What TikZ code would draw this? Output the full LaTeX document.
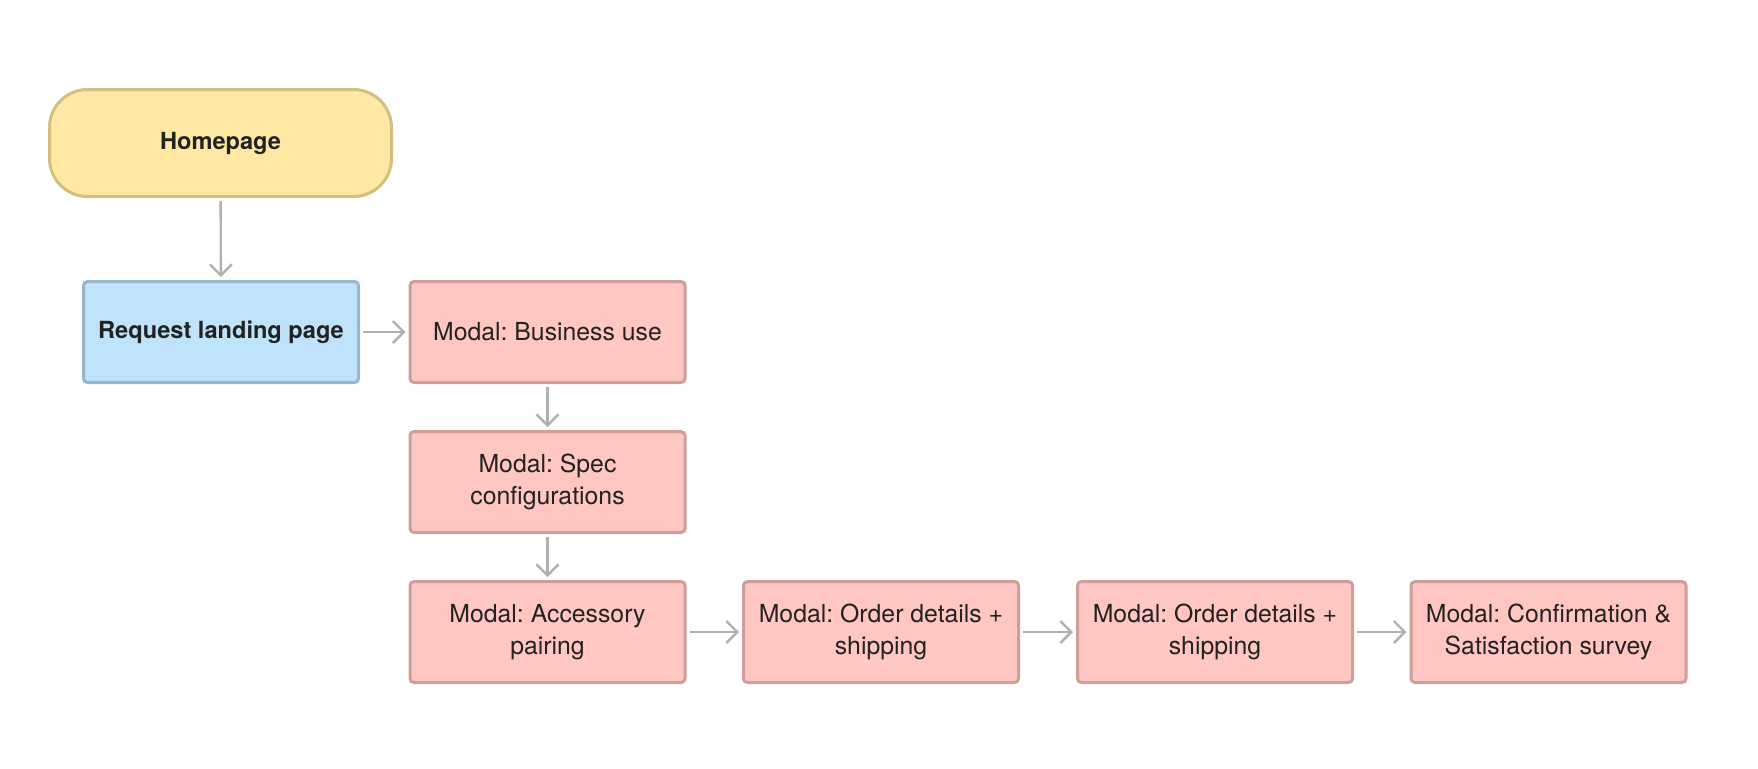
\documentclass[tikz,border=0pt]{standalone}
\usepackage{fontspec}
\setmainfont{TeX Gyre Heros}
\usetikzlibrary{arrows.meta}
\definecolor{homefill}{HTML}{FFE8A3}
\definecolor{homeline}{HTML}{D3BF80}
\definecolor{reqfill}{HTML}{C0E3FC}
\definecolor{reqline}{HTML}{97B5CE}
\definecolor{modalfill}{HTML}{FFC6C2}
\definecolor{modalline}{HTML}{CF9D9A}
\definecolor{flowgray}{HTML}{B0B0B0}
\definecolor{ink}{HTML}{222222}
\frenchspacing
\begin{document}
\begin{tikzpicture}[x=0.5pt,y=-0.5pt,
  box/.style={draw=modalline,fill=modalfill,line width=1.5pt,rounded corners=2pt,
    minimum width=137.5pt,minimum height=50.5pt,inner sep=2pt,align=center,text=ink,
    font=\fontsize{12.4}{16}\selectfont},
  startbox/.style={box,draw=homeline,fill=homefill,rounded corners=19pt,
    minimum width=171pt,minimum height=53.5pt,font=\fontsize{11.8}{16}\selectfont\bfseries},
  reqbox/.style={box,draw=reqline,fill=reqfill,font=\fontsize{11.8}{16}\selectfont\bfseries},
  flow/.style={draw=flowgray,line width=1.2pt,-{Straight Barb[length=5.5pt,width=11pt]},
    shorten >=1.5pt,shorten <=1.5pt}]
  \useasboundingbox (0,0) rectangle (1758,768);
  \node[startbox] (home) at (220.5,143) {Homepage};
  \node[reqbox] (request) at (221,332) {Request landing page};
  \node[box] (business) at (547.5,332) {Modal: Business use};
  \node[box] (spec) at (547.5,482) {Modal: Spec\\configurations};
  \node[box] (accessory) at (547.5,632) {Modal: Accessory\\pairing};
  \node[box] (order) at (881,632) {Modal: Order details +\\shipping};
  \node[box] (ordertwo) at (1215,632) {Modal: Order details +\\shipping};
  \node[box] (confirm) at (1548.5,632) {Modal: Confirmation \&\\Satisfaction survey};
  \draw[flow] (home) -- (request);
  \draw[flow] (request) -- (business);
  \draw[flow] (business) -- (spec);
  \draw[flow] (spec) -- (accessory);
  \draw[flow] (accessory) -- (order);
  \draw[flow] (order) -- (ordertwo);
  \draw[flow] (ordertwo) -- (confirm);
\end{tikzpicture}
\end{document}
